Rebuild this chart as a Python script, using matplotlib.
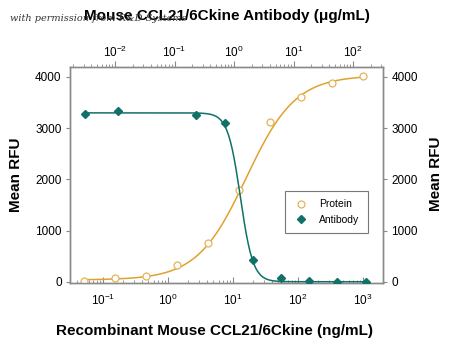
import numpy as np
import matplotlib
matplotlib.use("Agg")
import matplotlib.pyplot as plt

plt.rcParams['font.family'] = ['Liberation Sans', 'DejaVu Sans']
plt.rcParams['mathtext.fontset'] = 'custom'
plt.rcParams['mathtext.rm'] = 'Liberation Sans'
plt.rcParams['mathtext.it'] = 'Liberation Sans:italic'

# 데이터
protein_conc = [0.051, 0.152, 0.457, 1.37, 4.12, 12.3, 37.0, 111, 333, 1000]   # ng/mL (아래 축)
protein_rfu = [10, 72, 117, 326, 767, 1795, 3116, 3610, 3889, 4020]
antibody_conc = [0.0031, 0.0114, 0.23, 0.70, 2.05, 6.1, 18, 54, 163]          # ug/mL (위 축)
antibody_rfu = [3272, 3342, 3258, 3097, 435, 72, 14, 0, 0]

# 4PL fit 파라미터
prot_fit = dict(bottom=40, top=4030, ec50=16.0, hill=1.15)
ab_fit = dict(bottom=5, top=3300, ec50=1.28, hill=4.1)

yticks = [0, 1000, 2000, 3000, 4000]
bottom_ticks = [0.1, 1, 10, 100, 1000]
bottom_labels = ['$10^{-1}$', '$10^{0}$', '$10^{1}$', '$10^{2}$', '$10^{3}$']
top_ticks = [0.01, 0.1, 1, 10, 100]
top_labels = ['$10^{-2}$', '$10^{-1}$', '$10^{0}$', '$10^{1}$', '$10^{2}$']

orange = '#E0A22E'
teal = '#117068'
spine_c = '#8a8a8a'


def four_pl(x, bottom, top, ec50, hill):
    return bottom + (top - bottom) / (1 + (ec50 / x) ** hill)


fig = plt.figure(figsize=(4.5, 3.47), dpi=100)
ax = fig.add_axes([0.1556, 0.1844, 0.6956, 0.6225])
ax.set_xscale('log')
ax.set_xlim(10 ** -1.508, 10 ** 3.308)
ax.set_ylim(-20, 4195)

# protein (아래 축)
xs = np.logspace(np.log10(protein_conc[0]), np.log10(protein_conc[-1]), 300)
ax.plot(xs, four_pl(xs, **prot_fit), color=orange, lw=1.1, zorder=2)
ax.plot(protein_conc, protein_rfu, 'o', ms=5, mfc='white', mec='#E3B45A', mew=0.9, zorder=3,
        label='Protein')

# antibody (위 축)
ax2 = ax.twiny()
ax2.set_xscale('log')
ax2.set_xlim(10 ** -2.756, 10 ** 2.504)
xa = np.logspace(np.log10(antibody_conc[0]), np.log10(antibody_conc[-1]), 300)
ya = ab_fit['bottom'] + (ab_fit['top'] - ab_fit['bottom']) / (1 + (xa / ab_fit['ec50']) ** ab_fit['hill'])
ax2.plot(xa, ya, color=teal, lw=1.1, zorder=2)
ax2.plot(antibody_conc, antibody_rfu, 'D', ms=4.5, color=teal, zorder=3, label='Antibody')

# 축 꾸미기
for a in (ax, ax2):
    for s in a.spines.values():
        s.set_color(spine_c)
        s.set_linewidth(1.0)

ax.set_yticks(yticks)
ax.set_yticklabels([str(v) for v in yticks], fontsize=8.5)
ax.tick_params(axis='y', direction='out', length=3, color=spine_c, pad=3,
               right=True, labelright=True)
ax.set_xticks(bottom_ticks)
ax.set_xticklabels(bottom_labels, fontsize=8.5)
ax.tick_params(axis='x', which='major', direction='in', length=4, color=spine_c, pad=7)
ax.tick_params(axis='x', which='minor', direction='in', length=2, color=spine_c)

ax2.set_xticks(top_ticks)
ax2.set_xticklabels(top_labels, fontsize=8.5)
ax2.tick_params(axis='x', which='major', direction='out', length=4, color=spine_c, pad=1)
ax2.tick_params(axis='x', which='minor', direction='out', length=2, color=spine_c)

ax.set_xlabel('Recombinant Mouse CCL21/6Ckine (ng/mL)', fontsize=11, fontweight='bold')
ax.xaxis.set_label_coords(0.462, -0.19)
ax.set_ylabel('Mean RFU', fontsize=11, fontweight='bold')
ax.yaxis.set_label_coords(-0.15, 0.5)
ax2.set_xlabel('Mouse CCL21/6Ckine Antibody (\u03bcg/mL)', fontsize=11, fontweight='bold', labelpad=18)
fig.text(0.968, 0.5, 'Mean RFU', rotation=90, fontsize=11, fontweight='bold', ha='center', va='center')

# 범례
h1, l1 = ax.get_legend_handles_labels()
h2, l2 = ax2.get_legend_handles_labels()
leg = ax2.legend(h1 + h2, l1 + l2, loc='upper left', bbox_to_anchor=(0.67, 0.45), fontsize=7.5,
                 frameon=True, fancybox=False, borderpad=0.8, handletextpad=1.0, labelspacing=0.5,
                 handlelength=1.5)
leg.get_frame().set_edgecolor('#555555')
leg.get_frame().set_linewidth(0.8)

# 워터마크 (제목 뒤에 깔림)
fig.text(0.022, 0.94, 'with permission from R&D Systems', family='DejaVu Serif', style='italic',
         fontsize=7, color='#333333', zorder=0)

fig.savefig('out.png', dpi=100)
